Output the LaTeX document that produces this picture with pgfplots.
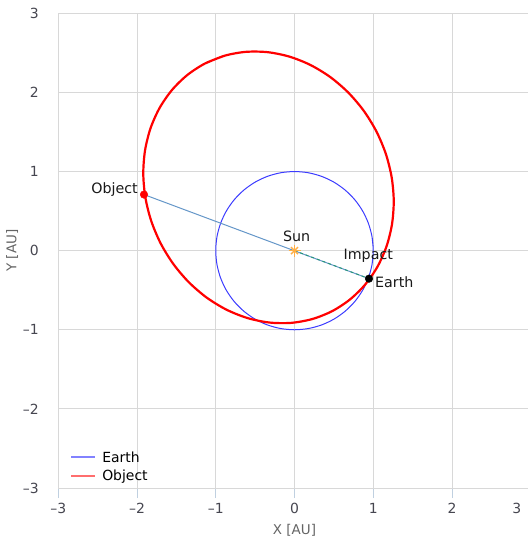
\documentclass[border=0pt]{standalone}
\usepackage{fontspec}
\setmainfont{DejaVu Sans}
\usepackage{pgfplots}
\pgfplotsset{compat=1.18}
\definecolor{gridc}{RGB}{216,216,216}
\definecolor{tickc}{RGB}{192,208,224}
\definecolor{labc}{RGB}{70,70,80}
\definecolor{titc}{RGB}{100,100,100}
\definecolor{earthc}{RGB}{60,60,255}
\definecolor{objc}{RGB}{255,0,0}
\definecolor{earthleg}{RGB}{130,130,255}
\definecolor{objleg}{RGB}{255,110,110}
\definecolor{pathc}{RGB}{100,150,200}
\definecolor{pathg}{RGB}{40,150,120}
\definecolor{sunc}{RGB}{255,175,70}
\begin{document}
\begin{tikzpicture}
\begin{axis}[
  at={(0,0)}, anchor=south west,
  scale only axis, width=472.5bp, height=474.7bp,
  xmin=-3, xmax=3, ymin=-3, ymax=3,
  xtick={-3,-2,-1,0,1,2}, xticklabels={–3,–2,–1,0,1,2},
  extra x ticks={3}, extra x tick labels={3},
  extra x tick style={xticklabel style={xshift=-14bp}},
  ytick={-3,-2,-1,0,1,2,3}, yticklabels={–3,–2,–1,0,1,2,3},
  grid=major, major grid style={gridc, line width=0.8bp},
  axis line style={gridc, line width=0.8bp},
  tick align=outside, xtick pos=left, ytick pos=left,
  major tick length=10bp,
  xtick style={tickc, line width=0.8bp},
  ytick style={draw=none},
  tick label style={font=\fontsize{14}{16}\selectfont, text=labc},
  xticklabel style={yshift=-1.5bp},
  yticklabel style={xshift=-6bp},
  label style={font=\fontsize{13.5}{15}\selectfont, text=titc},
  xlabel={X [AU]}, ylabel={Y [AU]},
  xlabel style={at={(axis description cs:0.5,-0.0885)}, anchor=center},
  ylabel style={at={(axis description cs:-0.0974,0.5)}, anchor=center},
  legend image code/.code={\draw[#1] (0bp,0bp) -- (24bp,0bp);},
  legend style={at={(axis cs:-2.85,-2.51)}, anchor=north west, draw=none, fill=none,
    inner sep=0pt, font=\fontsize{14}{16}\selectfont, row sep=2.5bp, column sep=4bp,
    nodes={inner sep=2bp}},
  legend cell align=left,
]
\addlegendimage{earthleg, line width=2bp}
\addlegendentry{Earth}
\addlegendimage{objleg, line width=2bp}
\addlegendentry{Object}

% Earth orbit (unit circle)
\addplot[earthc, line width=1bp, smooth, forget plot] coordinates {
(0.9848,-0.1736) (1,0) (0.9848,0.1736) (0.9397,0.342) (0.866,0.5) (0.766,0.6428)
(0.6428,0.766) (0.5,0.866) (0.342,0.9397) (0.1736,0.9848) (0,1) (-0.1736,0.9848)
(-0.342,0.9397) (-0.5,0.866) (-0.6428,0.766) (-0.766,0.6428) (-0.866,0.5)
(-0.9397,0.342) (-0.9848,0.1736) (-1,0) (-0.9848,-0.1736) (-0.9397,-0.342)
(-0.866,-0.5) (-0.766,-0.6428) (-0.6428,-0.766) (-0.5,-0.866) (-0.342,-0.9397)
(-0.1736,-0.9848) (0,-1) (0.1736,-0.9848) (0.342,-0.9397) (0.5,-0.866)
(0.6428,-0.766) (0.766,-0.6428) (0.866,-0.5) (0.9397,-0.342) (0.9848,-0.1736)
(1,0) (0.9848,0.1736)
};

% Object orbit
\addplot[objc, line width=2.2bp, smooth, forget plot] coordinates {
(-0.8863,2.4643) (-1.1365,2.3655) (-1.3621,2.2191) (-1.5566,2.0296) (-1.7137,1.8026)
(-1.8288,1.5453) (-1.8982,1.2654) (-1.9202,0.9712) (-1.8937,0.6718) (-1.8197,0.3763)
(-1.7005,0.0938) (-1.5397,-0.1673) (-1.3421,-0.3990) (-1.1137,-0.5944) (-0.8614,-0.7472)
(-0.5932,-0.8531) (-0.3169,-0.9088) (-0.0408,-0.9126) (0.2263,-0.8643) (0.4765,-0.7655)
(0.7021,-0.6191) (0.8966,-0.4296) (1.0537,-0.2026) (1.1688,0.0547) (1.2382,0.3346)
(1.2602,0.6289) (1.2337,0.9282) (1.1597,1.2237) (1.0405,1.5062) (0.8797,1.7673)
(0.6821,1.9990) (0.4537,2.1944) (0.2014,2.3472) (-0.0668,2.4531) (-0.3431,2.5088)
(-0.6192,2.5126) (-0.8863,2.4643) (-1.1365,2.3655)
};

% trajectory
\addplot[pathc, line width=1bp, forget plot] coordinates {(-1.911,0.709) (0.946,-0.354)};
\addplot[pathg, line width=1bp, dashed, forget plot] coordinates {(0,0) (0.946,-0.354)};

% Sun
\addplot[only marks, mark=+, mark size=6bp, sunc, line width=1.4bp, forget plot] coordinates {(0,0)};
\addplot[only marks, mark=x, mark size=5bp, sunc, line width=1.4bp, forget plot] coordinates {(0,0)};

% points
\addplot[only marks, mark=*, mark size=3.8bp, objc, forget plot] coordinates {(-1.911,0.709)};
\addplot[only marks, mark=*, mark size=3.8bp, black, forget plot] coordinates {(0.946,-0.354)};

\node[anchor=base east, inner sep=0pt, text=black!90, font=\fontsize{14.3}{16}\selectfont] at (axis cs:-1.987,0.717) {Object};
\node[anchor=base, inner sep=0pt, text=black!90, font=\fontsize{14.3}{16}\selectfont] at (axis cs:0.028,0.118) {Sun};
\node[anchor=base, inner sep=0pt, text=black!90, font=\fontsize{14.3}{16}\selectfont] at (axis cs:0.937,-0.114) {Impact};
\node[anchor=base west, inner sep=0pt, text=black!90, font=\fontsize{14.3}{16}\selectfont] at (axis cs:1.022,-0.472) {Earth};
\end{axis}
\pgfresetboundingbox
\useasboundingbox (-58.25bp,-51bp) rectangle (469.75bp,488bp);
\end{tikzpicture}
\end{document}
